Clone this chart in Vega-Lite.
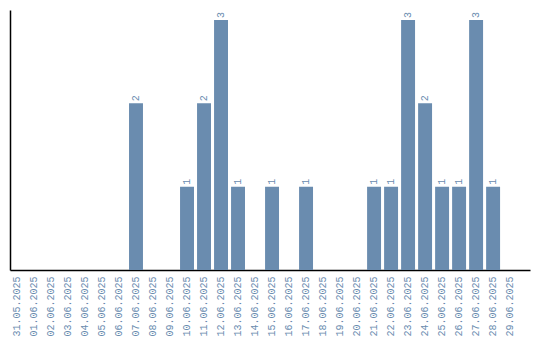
{
  "$schema": "https://vega.github.io/schema/vega-lite/v6.json",
  "width": 520,
  "height": 260,
  "autosize": {"type": "none"},
  "padding": {"left": 10, "top": 10, "right": 10, "bottom": 70},
  "background": "white",
  "config": {"view": {"stroke": null}},
  "data": {"values": [
    {"date": "31.05.2025", "count": 0},
    {"date": "01.06.2025", "count": 0},
    {"date": "02.06.2025", "count": 0},
    {"date": "03.06.2025", "count": 0},
    {"date": "04.06.2025", "count": 0},
    {"date": "05.06.2025", "count": 0},
    {"date": "06.06.2025", "count": 0},
    {"date": "07.06.2025", "count": 2},
    {"date": "08.06.2025", "count": 0},
    {"date": "09.06.2025", "count": 0},
    {"date": "10.06.2025", "count": 1},
    {"date": "11.06.2025", "count": 2},
    {"date": "12.06.2025", "count": 3},
    {"date": "13.06.2025", "count": 1},
    {"date": "14.06.2025", "count": 0},
    {"date": "15.06.2025", "count": 1},
    {"date": "16.06.2025", "count": 0},
    {"date": "17.06.2025", "count": 1},
    {"date": "18.06.2025", "count": 0},
    {"date": "19.06.2025", "count": 0},
    {"date": "20.06.2025", "count": 0},
    {"date": "21.06.2025", "count": 1},
    {"date": "22.06.2025", "count": 1},
    {"date": "23.06.2025", "count": 3},
    {"date": "24.06.2025", "count": 2},
    {"date": "25.06.2025", "count": 1},
    {"date": "26.06.2025", "count": 1},
    {"date": "27.06.2025", "count": 3},
    {"date": "28.06.2025", "count": 1},
    {"date": "29.06.2025", "count": 0}
  ]},
  "encoding": {
    "x": {
      "field": "date", "type": "nominal", "sort": null,
      "scale": {"paddingInner": 0.18, "paddingOuter": 0.38, "align": 0},
      "axis": {
        "title": null, "ticks": false, "labelAngle": -90, "labelAlign": "right",
        "labelBaseline": "middle", "labelPadding": 6, "labelFont": "Liberation Mono",
        "labelFontSize": 10, "labelColor": "#6a8caf", "domainColor": "black",
        "domainWidth": 1.5, "grid": false
      }
    },
    "y": {
      "field": "count", "type": "quantitative",
      "scale": {"domain": [0, 3.12], "nice": false},
      "axis": {"title": null, "ticks": false, "labels": false, "grid": false, "domainColor": "black", "domainWidth": 1.5}
    }
  },
  "layer": [
    {"mark": {"type": "bar", "color": "#6a8caf"}},
    {
      "transform": [{"filter": "datum.count > 0"}],
      "mark": {"type": "text", "angle": -90, "align": "left", "baseline": "middle", "dx": 2, "font": "Liberation Mono", "fontSize": 10, "color": "#6a8caf"},
      "encoding": {"text": {"field": "count", "type": "quantitative"}}
    }
  ]
}
